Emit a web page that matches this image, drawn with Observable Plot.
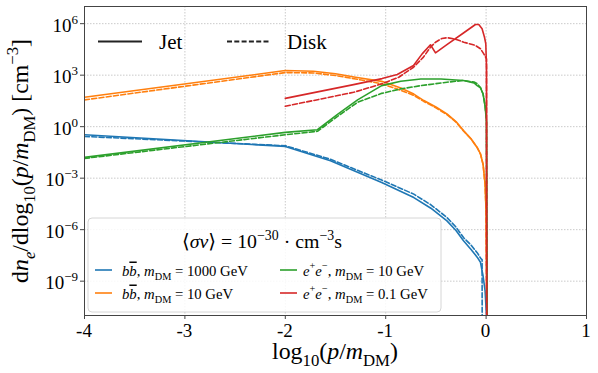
<!DOCTYPE html>
<html><head><meta charset="utf-8">
<script src="https://cdn.jsdelivr.net/npm/d3@7"></script>
<script src="https://cdn.jsdelivr.net/npm/@observablehq/plot@0.6"></script>
<style>
body{margin:0;background:#fff;} #chart{width:598px;height:373px;}
svg text, svg tspan { font-family: "Liberation Serif", "Times New Roman", Tinos, "DejaVu Serif", serif !important; }
</style>
</head><body><div id="chart"></div>
<script>
// x = log10(p/mDM), values = log10(dn/dlog10(p/mDM) [cm^-3])
const bb1000JetX  = [-4, -2, -1.55, -1.04, -0.72, -0.55, -0.39, -0.3, -0.225, -0.15, -0.089, -0.056, -0.03, -0.01, 0.004, 0.006];
const bb1000JetY  = [-0.47, -1.15, -1.98, -3.25, -4.13, -4.75, -5.49, -6.05, -6.65, -7.15, -7.6, -7.9, -8.7, -9.57, -11.03, -11.5];
const bb1000DiskX = [-4, -2, -1.55, -1.04, -0.72, -0.55, -0.39, -0.3, -0.225, -0.15, -0.089, -0.05, -0.04, -0.039];
const bb1000DiskY = [-0.57, -1.11, -1.9, -3.11, -3.93, -4.55, -5.29, -5.85, -6.46, -6.9, -7.34, -7.7, -7.75, -11.5];

const bb10JetX  = [-4, -2, -1.72, -1.5, -1.3, -1.04, -0.85, -0.72, -0.62, -0.5, -0.39, -0.3, -0.225, -0.15, -0.089, -0.056, -0.03, -0.01, 0.0, 0.008];
const bb10JetY  = [1.71, 3.27, 3.23, 3.08, 2.88, 2.64, 2.25, 1.9, 1.52, 1.15, 0.74, 0.3, -0.23, -0.7, -1.21, -1.58, -2.2, -3.35, -5, -11.5];
const bb10DiskX = [-4, -2, -1.72, -1.5, -1.3, -1.04, -0.85, -0.72, -0.62, -0.5, -0.39, -0.3, -0.225, -0.15, -0.089, -0.056, -0.03, -0.01, 0.0, 0.008];
const bb10DiskY = [1.56, 3.15, 3.13, 2.98, 2.78, 2.5, 2.12, 1.82, 1.47, 1.1, 0.7, 0.27, -0.25, -0.72, -1.22, -1.6, -2.2, -3.35, -5, -11.5];

const ee10JetX  = [-4, -2, -1.68, -1.48, -1.28, -1.04, -0.85, -0.65, -0.45, -0.225, -0.12, -0.089, -0.056, -0.03, -0.01, 0.004, 0.01];
const ee10JetY  = [-1.79, -0.33, -0.18, 0.72, 1.56, 2.39, 2.65, 2.78, 2.78, 2.69, 2.55, 2.39, 2.26, 1.9, 1.2, 0.3, -11.5];
const ee10DiskX = [-4, -2, -1.68, -1.48, -1.28, -1.04, -0.85, -0.65, -0.39, -0.225, -0.12, -0.089, -0.056, -0.03, -0.01, 0.004, 0.01];
const ee10DiskY = [-1.85, -0.47, -0.27, 0.6, 1.42, 1.94, 2.2, 2.39, 2.59, 2.69, 2.6, 2.5, 2.28, 1.9, 1.2, 0.3, -11.5];

const ee01JetX  = [-2, -1.32, -1.036, -0.885, -0.723, -0.637, -0.554, -0.504, -0.387, -0.222, -0.106, -0.073, -0.04, -0.016, -0.003, 0.004, 0.006];
const ee01JetY  = [1.65, 2.45, 2.8, 3.04, 3.56, 4.24, 4.77, 4.3, 4.79, 5.47, 5.95, 5.95, 5.7, 5.21, 4.83, 3.46, -11.5];
const ee01DiskX = [-2, -1.32, -1.036, -0.87, -0.723, -0.624, -0.554, -0.504, -0.44, -0.387, -0.31, -0.222, -0.106, -0.056, -0.023, 0.004, 0.006];
const ee01DiskY = [1.19, 2.0, 2.5, 2.88, 3.46, 4.05, 4.63, 4.92, 5.14, 5.18, 5.11, 4.92, 4.73, 4.54, 4.24, 3.95, -11.5];

const xTicks = [-4, -3, -2, -1, 0, 1];
const yTickExps = [-9, -6, -3, 0, 3, 6];

const series = [
  {xs: bb1000JetX, ys: bb1000JetY, color: "#1f77b4", dash: null},
  {xs: bb1000DiskX, ys: bb1000DiskY, color: "#1f77b4", dash: "5,2.3"},
  {xs: bb10JetX, ys: bb10JetY, color: "#ff7f0e", dash: null},
  {xs: bb10DiskX, ys: bb10DiskY, color: "#ff7f0e", dash: "5,2.3"},
  {xs: ee10JetX, ys: ee10JetY, color: "#2ca02c", dash: null},
  {xs: ee10DiskX, ys: ee10DiskY, color: "#2ca02c", dash: "5,2.3"},
  {xs: ee01JetX, ys: ee01JetY, color: "#d62728", dash: null},
  {xs: ee01DiskX, ys: ee01DiskY, color: "#d62728", dash: "5,2.3"}
];

const font = '"Liberation Serif", "Times New Roman", Tinos, "DejaVu Serif", serif';
const yTicks = yTickExps.map(e => Math.pow(10, e));

const plot = Plot.plot({
  width: 598, height: 373,
  marginLeft: 84, marginRight: 12, marginTop: 6, marginBottom: 58,
  style: {fontFamily: font, fontSize: "19px", color: "#000", background: "#fff", overflow: "visible"},
  x: {domain: [-4, 1], label: null},
  y: {type: "log", domain: [1e-11, 1e7], label: null},
  marks: [
    Plot.gridX(xTicks, {stroke: "#bdbdbd", strokeOpacity: 1, strokeWidth: 0.8, strokeDasharray: "1.5,1.5"}),
    Plot.gridY(yTicks, {stroke: "#bdbdbd", strokeOpacity: 1, strokeWidth: 0.8, strokeDasharray: "1.5,1.5"}),
    ...series.map(s => Plot.line(s.xs.map((x, i) => ({x, y: Math.pow(10, s.ys[i])})), {
      x: "x", y: "y", stroke: s.color, strokeWidth: 1.6, strokeDasharray: s.dash, clip: true
    })),
    Plot.frame({stroke: "#444", strokeWidth: 1}),
    Plot.axisX(xTicks, {tickSize: 4, stroke: "#444", tickFormat: () => ""}),
    Plot.axisY(yTicks, {tickSize: 4, stroke: "#444", tickFormat: () => ""})
  ]
});
document.getElementById("chart").appendChild(plot);

const svg = d3.select(plot);
const xs = plot.scale("x"), ys = plot.scale("y");
const g = svg.append("g").attr("font-family", font).attr("fill", "#000").attr("text-anchor", "start");

function rich(sel, parts, size) {
  sel.selectAll("tspan").remove();
  sel.attr("font-size", size);
  let shift = 0;
  for (const p of parts) {
    const target = p.sub ? size * 0.28 : p.sup ? -size * 0.42 : 0;
    const ts = sel.append("tspan").text(p.t).attr("dy", target - shift);
    shift = target;
    if (p.sub || p.sup) ts.attr("font-size", size * 0.7);
    if (p.it) ts.attr("font-style", "italic");
    if (p.bar) ts.attr("text-decoration", "overline");
  }
}
// render rich text, then rescale the font so that its length matches the reference
function fitted(sel, parts, size, targetLen) {
  rich(sel, parts, size);
  const w = sel.node().getComputedTextLength ? sel.node().getComputedTextLength() : 0;
  if (w > 0 && targetLen) rich(sel, parts, size * targetLen / w);
  return sel;
}

// x tick labels
for (const v of xTicks) {
  g.append("text").attr("x", xs.apply(v)).attr("y", 337).attr("text-anchor", "middle")
    .attr("font-size", 19).text((v < 0 ? "-" : "") + Math.abs(v));
}
// y tick labels 10^n
for (const e of yTickExps) {
  const t = g.append("text").attr("x", 78).attr("y", ys.apply(Math.pow(10, e)) + 8.4)
    .attr("text-anchor", "end").attr("font-size", 19);
  t.append("tspan").text("10");
  t.append("tspan").attr("dy", -8).attr("font-size", 13).text(e < 0 ? "\u2212" + Math.abs(e) : String(e));
}

// y label
const yl = g.append("text").attr("transform", "translate(28,161) rotate(-90)").attr("text-anchor", "middle");
fitted(yl, [
  {t: "d"}, {t: "n", it: true}, {t: "e", it: true, sub: true}, {t: "/dlog"}, {t: "10", sub: true},
  {t: "("}, {t: "p", it: true}, {t: "/"}, {t: "m", it: true}, {t: "DM", sub: true}, {t: ")"},
  {t: " [cm"}, {t: "\u22123", sup: true}, {t: "]"}
], 20.5, 244);

// x label
const xl = g.append("text").attr("x", 335).attr("y", 359).attr("text-anchor", "middle");
fitted(xl, [
  {t: "log"}, {t: "10", sub: true}, {t: "("}, {t: "p", it: true}, {t: "/"}, {t: "m", it: true},
  {t: "DM", sub: true}, {t: ")"}
], 23, 126);

// Jet / Disk legend
g.append("line").attr("x1", 98).attr("x2", 142).attr("y1", 41.5).attr("y2", 41.5).attr("stroke", "#222").attr("stroke-width", 1.8);
g.append("text").attr("x", 159).attr("y", 49).attr("font-size", 21).text("Jet");
g.append("line").attr("x1", 227).attr("x2", 269).attr("y1", 41.5).attr("y2", 41.5).attr("stroke", "#222").attr("stroke-width", 1.8).attr("stroke-dasharray", "5,2.3");
g.append("text").attr("x", 287).attr("y", 49).attr("font-size", 21).text("Disk");

// channel legend box
g.append("rect").attr("x", 88).attr("y", 218).attr("width", 353).attr("height", 94).attr("rx", 4)
  .attr("fill", "#fff").attr("fill-opacity", 0.85).attr("stroke", "#d6d6d6").attr("stroke-width", 1);
const tt = g.append("text").attr("x", 262).attr("y", 248).attr("text-anchor", "middle");
fitted(tt, [
  {t: "\u27E8"}, {t: "\u03C3v", it: true}, {t: "\u27E9 = 10"}, {t: "\u221230", sup: true},
  {t: " \u00B7 cm"}, {t: "\u22123", sup: true}, {t: "s"}
], 19, 160);

const entries = [
  {x: 95, y: 270, color: "#1f77b4", parts: [{t: "b", it: true}, {t: "b", it: true, bar: true}, {t: ", "}, {t: "m", it: true}, {t: "DM", sub: true}, {t: " = 1000 GeV"}]},
  {x: 95, y: 293, color: "#ff7f0e", parts: [{t: "b", it: true}, {t: "b", it: true, bar: true}, {t: ", "}, {t: "m", it: true}, {t: "DM", sub: true}, {t: " = 10 GeV"}]},
  {x: 280, y: 270, color: "#2ca02c", parts: [{t: "e", it: true}, {t: "+", sup: true}, {t: "e", it: true}, {t: "\u2212", sup: true}, {t: ", "}, {t: "m", it: true}, {t: "DM", sub: true}, {t: " = 10 GeV"}]},
  {x: 280, y: 293, color: "#d62728", parts: [{t: "e", it: true}, {t: "+", sup: true}, {t: "e", it: true}, {t: "\u2212", sup: true}, {t: ", "}, {t: "m", it: true}, {t: "DM", sub: true}, {t: " = 0.1 GeV"}]}
];
// font size for entries: fit the first entry to the reference width
const probe = g.append("text").attr("x", -999).attr("y", -999);
rich(probe, entries[0].parts, 15.5);
const pw = probe.node().getComputedTextLength();
const entrySize = pw > 0 ? Math.min(17, Math.max(13, 15.5 * 126 / pw)) : 15.5;
probe.remove();
for (const en of entries) {
  g.append("line").attr("x1", en.x).attr("x2", en.x + 17).attr("y1", en.y).attr("y2", en.y).attr("stroke", en.color).attr("stroke-width", 1.6);
  const t = g.append("text").attr("x", en.x + (en.x < 200 ? 27 : 23)).attr("y", en.y + 5.5);
  rich(t, en.parts, entrySize);
}
</script>
</body></html>
